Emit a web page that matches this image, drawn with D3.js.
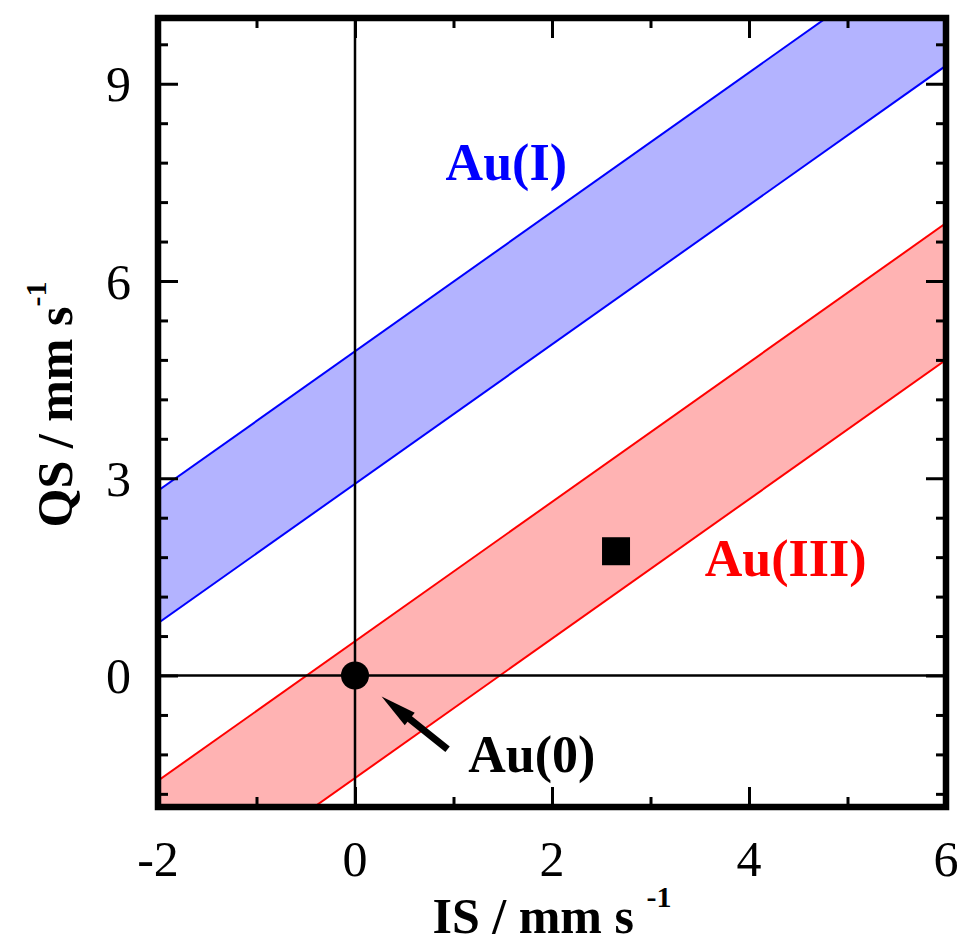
<!DOCTYPE html>
<html><head><meta charset="utf-8">
<script src="https://cdn.jsdelivr.net/npm/d3@7"></script>
<style>body{margin:0;background:#fff} svg{display:block}</style>
</head><body>
<svg id="chart" width="964" height="944"></svg>
<script>
// Axis ranges and ticks
const xDomain = [-2, 6];
const yDomain = [-2, 10];
const xMajorTicks = [-2, 0, 2, 4, 6];
const xMinorTicks = [-1, 1, 3, 5];
const yMajorTicks = [0, 3, 6, 9];
const yMinorTicks = [-1.8, -1.2, -0.6, 0.6, 1.2, 1.8, 2.4, 3.6, 4.2, 4.8, 5.4, 6.6, 7.2, 7.8, 8.4, 9.6];

// Oxidation-state bands: boundary lines given at IS = -2 and IS = 6
const bandNames = ["Au(I)", "Au(III)"];
const bandIS = [-2, 6];
const bandUpperQS = [[2.81, 11.29], [-1.60, 6.88]];
const bandLowerQS = [[0.795, 9.275], [-3.68, 4.80]];
const bandFill = ["#b3b3ff", "#ffb3b3"];
const bandStroke = ["#0000ff", "#ff0000"];
const bandLabelPos = [[0.92, 7.53], [3.55, 1.52]];

// Measured points
const pointIS = [0, 2.65];
const pointQS = [0, 1.89];
const pointShape = ["circle", "square"];

// Au(0) annotation
const arrowFrom = [0.94, -1.12];
const arrowTo = [0.27, -0.32];
const au0Label = "Au(0)";
const au0LabelPos = [1.15, -1.475];

const svg = d3.select("#chart");
const L = 158, R = 946, T = 18, B = 807;
const x = d3.scaleLinear().domain(xDomain).range([L, R]);
const y = d3.scaleLinear().domain(yDomain).range([B, T]);

svg.append("defs").append("clipPath").attr("id", "plotClip")
  .append("rect").attr("x", L).attr("y", T).attr("width", R - L).attr("height", B - T);

const plot = svg.append("g").attr("clip-path", "url(#plotClip)");

// Bands
bandNames.forEach((name, i) => {
  const upper = bandIS.map((v, k) => [v, bandUpperQS[i][k]]);
  const lower = bandIS.map((v, k) => [v, bandLowerQS[i][k]]);
  const area = d3.area().x(d => x(d[0])).y0((d, k) => y(lower[k][1])).y1(d => y(d[1]));
  plot.append("path").datum(upper).attr("d", area).attr("fill", bandFill[i]);
  const line = d3.line().x(d => x(d[0])).y(d => y(d[1]));
  [upper, lower].forEach(pts => {
    plot.append("path").datum(pts).attr("d", line)
      .attr("fill", "none").attr("stroke", bandStroke[i]).attr("stroke-width", 2);
  });
});

// Zero lines
plot.append("line").attr("x1", x(0)).attr("x2", x(0)).attr("y1", T).attr("y2", B)
  .attr("stroke", "#000").attr("stroke-width", 2.5);
plot.append("line").attr("x1", L).attr("x2", R).attr("y1", y(0)).attr("y2", y(0))
  .attr("stroke", "#000").attr("stroke-width", 2.5);

// Points
pointIS.forEach((v, i) => {
  if (pointShape[i] === "circle") {
    plot.append("circle").attr("cx", x(v)).attr("cy", y(pointQS[i])).attr("r", 14).attr("fill", "#000");
  } else {
    plot.append("rect").attr("x", x(v) - 14).attr("y", y(pointQS[i]) - 14)
      .attr("width", 28).attr("height", 28).attr("fill", "#000");
  }
});

// Arrow pointing at Au(0)
{
  const x1 = x(arrowFrom[0]), y1 = y(arrowFrom[1]);
  const x2 = x(arrowTo[0]), y2 = y(arrowTo[1]);
  const dx = x2 - x1, dy = y2 - y1, len = Math.hypot(dx, dy);
  const ux = dx / len, uy = dy / len;
  const headLen = 36, headHalf = 8;
  const bx = x2 - ux * headLen, by = y2 - uy * headLen;
  svg.append("line").attr("x1", x1).attr("y1", y1).attr("x2", bx + ux * 4).attr("y2", by + uy * 4)
    .attr("stroke", "#000").attr("stroke-width", 7);
  svg.append("path")
    .attr("d", `M${x2},${y2}L${bx - uy * headHalf},${by + ux * headHalf}L${bx + uy * headHalf},${by - ux * headHalf}Z`)
    .attr("fill", "#000");
}

// Ticks (inside, on all four sides)
function ticks(axisFn, scale, values, size, transform) {
  const g = svg.append("g").attr("transform", transform)
    .call(axisFn(scale).tickValues(values).tickSize(size).tickFormat(""));
  g.select(".domain").remove();
  g.selectAll(".tick line").attr("stroke", "#000").attr("stroke-width", 3);
}
ticks(d3.axisBottom, x, xMajorTicks, -20, `translate(0,${B})`);
ticks(d3.axisBottom, x, xMinorTicks, -10, `translate(0,${B})`);
ticks(d3.axisTop, x, xMajorTicks, -20, `translate(0,${T})`);
ticks(d3.axisTop, x, xMinorTicks, -10, `translate(0,${T})`);
ticks(d3.axisLeft, y, yMajorTicks, -20, `translate(${L},0)`);
ticks(d3.axisLeft, y, yMinorTicks, -10, `translate(${L},0)`);
ticks(d3.axisRight, y, yMajorTicks, -20, `translate(${R},0)`);
ticks(d3.axisRight, y, yMinorTicks, -10, `translate(${R},0)`);

// Frame
svg.append("rect").attr("x", L).attr("y", T).attr("width", R - L).attr("height", B - T)
  .attr("fill", "none").attr("stroke", "#000").attr("stroke-width", 6.5);

// Tick labels
const serif = "'Liberation Serif', 'Times New Roman', serif";
svg.append("g").selectAll("text").data(xMajorTicks).join("text")
  .attr("x", d => x(d)).attr("y", 876).attr("text-anchor", "middle")
  .attr("font-family", serif).attr("font-size", 50).text(d => d);
svg.append("g").selectAll("text").data(yMajorTicks).join("text")
  .attr("x", 131).attr("y", d => y(d)).attr("dy", "0.35em").attr("text-anchor", "end")
  .attr("font-family", serif).attr("font-size", 50).text(d => d);

// Axis titles
const xt = svg.append("text").attr("x", (L + R) / 2).attr("y", 933).attr("text-anchor", "middle")
  .attr("font-family", serif).attr("font-size", 50).attr("font-weight", "bold");
xt.append("tspan").text("IS / mm s ");
xt.append("tspan").attr("dy", -26).attr("font-size", 30).text("-1");

const yt = svg.append("text").attr("transform", `translate(72,${(T + B) / 2 - 8}) rotate(-90)`)
  .attr("text-anchor", "middle")
  .attr("font-family", serif).attr("font-size", 50).attr("font-weight", "bold");
yt.append("tspan").text("QS / mm s");
yt.append("tspan").attr("dy", -26).attr("font-size", 30).text("-1");

// Band and point labels
bandNames.forEach((name, i) => {
  svg.append("text").attr("x", x(bandLabelPos[i][0])).attr("y", y(bandLabelPos[i][1]))
    .attr("font-family", serif).attr("font-size", 52).attr("font-weight", "bold")
    .attr("fill", bandStroke[i]).text(name);
});
svg.append("text").attr("x", x(au0LabelPos[0])).attr("y", y(au0LabelPos[1]))
  .attr("font-family", serif).attr("font-size", 52).attr("font-weight", "bold")
  .attr("fill", "#000").text(au0Label);
</script>
</body></html>
